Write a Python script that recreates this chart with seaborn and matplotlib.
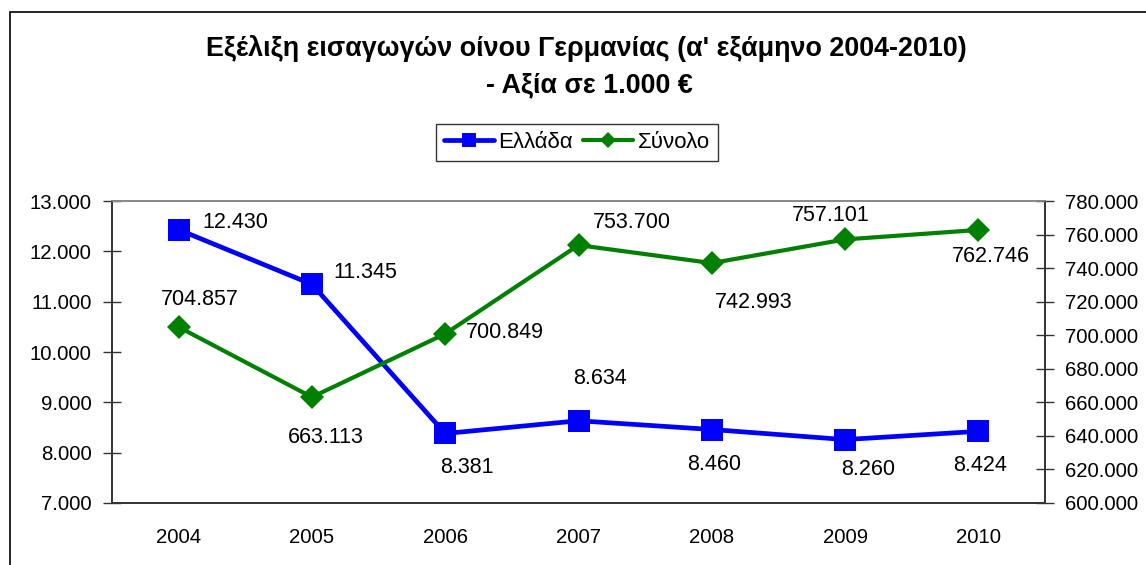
import numpy as np
import pandas as pd
import matplotlib.pyplot as plt
import seaborn as sns
from matplotlib.ticker import FuncFormatter, FixedLocator
from matplotlib.patches import Rectangle
from matplotlib.lines import Line2D

years = ["2004", "2005", "2006", "2007", "2008", "2009", "2010"]
greece = [12430, 11345, 8381, 8634, 8460, 8260, 8424]
total = [704857, 663113, 700849, 753700, 742993, 757101, 762746]

# label offsets in pixels (dx, dy)
greece_off = [(57, 7), (53, 12), (22, -34), (22, 42), (2, -35), (23, -30), (2, -34)]
total_off = [(21, 28), (14, -40), (60, 1), (53, 23), (42, -39), (-14, 24), (13, -27)]

sns.set_style("white")
plt.rcParams['font.family'] = ['Liberation Sans', 'DejaVu Sans']
plt.rcParams['text.color'] = 'black'
plt.rcParams['xtick.color'] = 'black'
plt.rcParams['ytick.color'] = 'black'

def dotted(v, pos=None):
    return f"{int(round(v)):,}".replace(",", ".")

df = pd.DataFrame({"pos": np.arange(len(years)), "greece": greece, "total": total})

fig = plt.figure(figsize=(11.46, 5.65), dpi=100)
ax = fig.add_axes([112 / 1146, 62 / 565, 933 / 1146, 302 / 565])
ax2 = ax.twinx()

sns.lineplot(data=df, x="pos", y="greece", ax=ax, color="#0000FF", lw=3.4,
             marker="s", markersize=16, markeredgewidth=0)
sns.lineplot(data=df, x="pos", y="total", ax=ax2, color="#008000", lw=3.0,
             marker="D", markersize=12, markeredgewidth=0)

ax.set_xlim(-0.5, len(years) - 0.5)
ax.set_ylim(7000, 13000)
ax2.set_ylim(600000, 780000)
ax.set_yticks(np.arange(7000, 13001, 1000))
ax2.set_yticks(np.arange(600000, 780001, 20000))
ax.yaxis.set_major_formatter(FuncFormatter(dotted))
ax2.yaxis.set_major_formatter(FuncFormatter(dotted))

ax.xaxis.set_major_locator(FixedLocator(np.arange(-0.5, len(years), 1.0)))
ax.xaxis.set_major_formatter(FuncFormatter(lambda v, p: ""))
ax.xaxis.set_minor_locator(FixedLocator(np.arange(len(years))))
ax.set_xticklabels(years, minor=True)
ax.tick_params(axis="x", which="major", direction="inout", length=13, width=1, color="#333333")
ax.tick_params(axis="x", which="minor", length=0, pad=18, labelsize=14.7, labelcolor="black")
ax.tick_params(axis="y", direction="inout", length=13, width=1, color="#333333", pad=8,
               labelsize=14.7, left=True, labelcolor="black")
ax2.tick_params(axis="y", direction="inout", length=13, width=1, color="#333333", pad=8,
                labelsize=14.7, right=True, labelcolor="black")

ax.set_xlabel("")
ax.set_ylabel("")
ax2.set_ylabel("")

for a in (ax, ax2):
    for side in ("left", "right", "bottom"):
        a.spines[side].set_color("#333333")
        a.spines[side].set_linewidth(1.2)
    a.spines["top"].set_color("#888888")
    a.spines["top"].set_linewidth(1.2)

for i, v in enumerate(greece):
    ax.annotate(dotted(v), (i, v), xytext=greece_off[i], textcoords="offset pixels",
                ha="center", va="center", fontsize=15.5, color="black")
for i, v in enumerate(total):
    ax2.annotate(dotted(v), (i, v), xytext=total_off[i], textcoords="offset pixels",
                 ha="center", va="center", fontsize=15.5, color="black")

fig.text(586 / 1146, 1 - 48 / 565, "Εξέλιξη εισαγωγών οίνου Γερμανίας (α' εξάμηνο 2004-2010)",
         ha="center", va="center", fontsize=19.4, fontweight="bold", color="black")
fig.text(589 / 1146, 1 - 85 / 565, "- Αξία σε 1.000 €",
         ha="center", va="center", fontsize=19.4, fontweight="bold", color="black")

handles = [
    Line2D([], [], color="#0000FF", lw=3.4, marker="s", markersize=10, markeredgewidth=0),
    Line2D([], [], color="#008000", lw=3.0, marker="D", markersize=8.5, markeredgewidth=0),
]
leg = fig.legend(handles, ["Ελλάδα", "Σύνολο"], loc="center",
                 bbox_to_anchor=(577 / 1146, 1 - 142.5 / 565), ncol=2, fontsize=16,
                 frameon=True, fancybox=False, handlelength=2.25, handletextpad=0.22,
                 columnspacing=0.45, borderpad=0.35, borderaxespad=0, edgecolor="black")
leg.get_frame().set_linewidth(1.0)

fig.patches.append(Rectangle((10 / 1146, -0.1), 1.2, 1.1 - 12 / 565,
                             transform=fig.transFigure, fill=False,
                             edgecolor="black", lw=1.2, clip_on=False))

fig.savefig("out.png", dpi=100)
